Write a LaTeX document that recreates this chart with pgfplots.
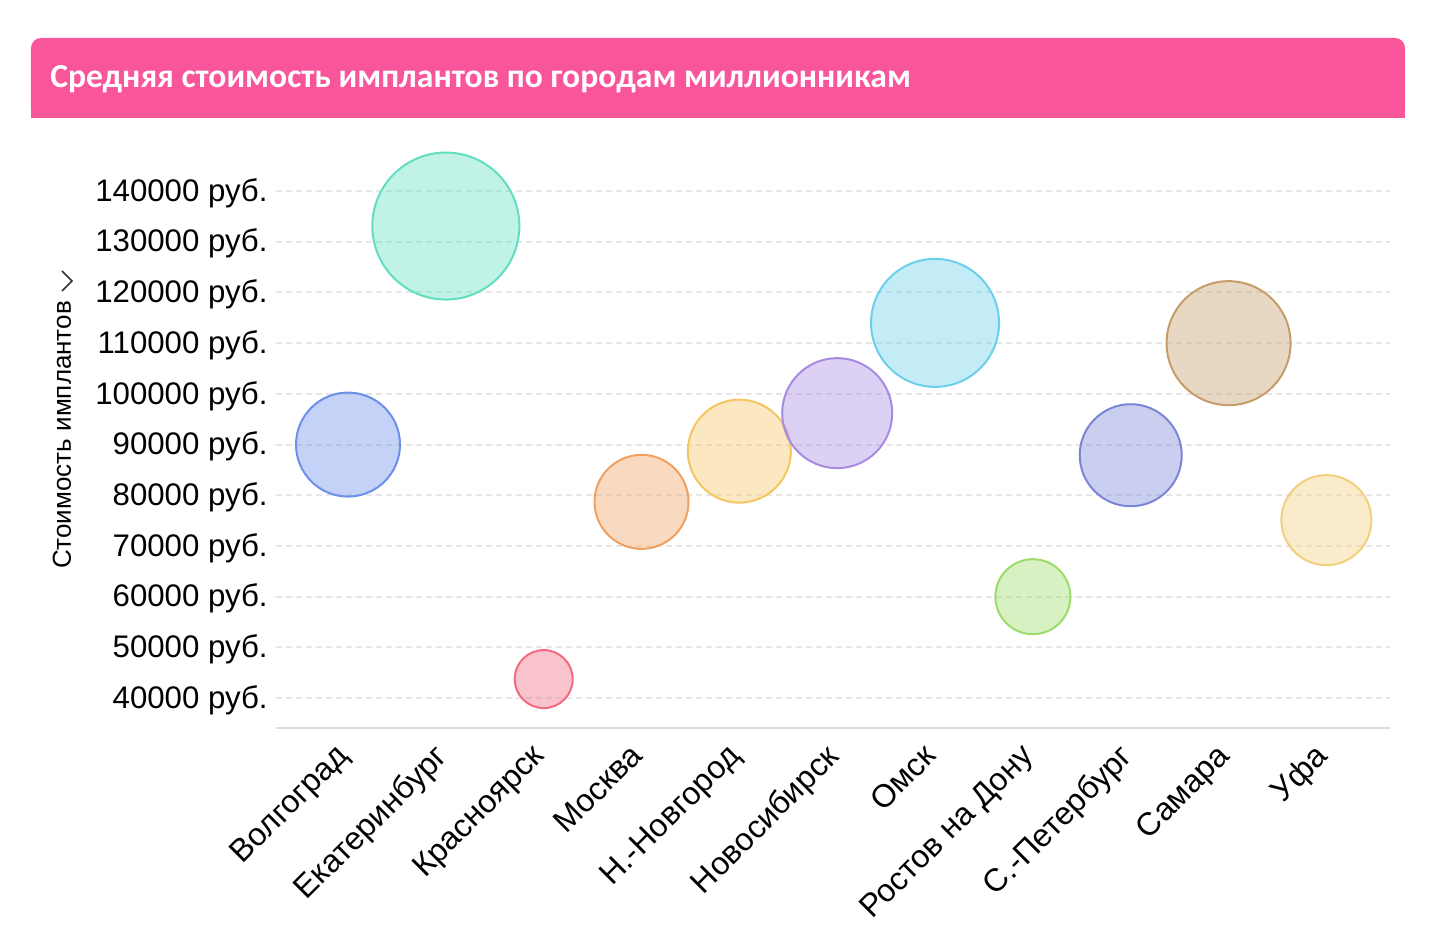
\documentclass[border=0pt]{standalone}
\usepackage{pgfplots}
\pgfplotsset{compat=1.18}
\usepackage{pgfplotstable}
\usepackage{fontspec}
\setmainfont{Liberation Sans}
\newfontfamily\titlefont{Carlito}

\definecolor{titlepink}{HTML}{F9559A}
\definecolor{gridc}{HTML}{E6E6E6}
\definecolor{axisc}{HTML}{DDDDDD}
\definecolor{ca}{HTML}{6C8FEA}
\definecolor{cb}{HTML}{61DEC0}
\definecolor{cc}{HTML}{F06A80}
\definecolor{cd}{HTML}{F0A060}
\definecolor{ce}{HTML}{F5C564}
\definecolor{cf}{HTML}{A78BE3}
\definecolor{cg}{HTML}{6BCFEA}
\definecolor{ch}{HTML}{9CDC6A}
\definecolor{ci}{HTML}{7A85D6}
\definecolor{cj}{HTML}{C49D6A}
\definecolor{ck}{HTML}{F2CF7E}

\pgfplotstableread{
x y r c
0 90000 52 a
1 133100 73.5 b
2 43750 29 c
3 78700 47 d
4 88700 51.5 e
5 96200 55 f
6 114000 64 g
7 60000 37.5 h
8 87900 51 i
9 110000 62 j
10 75100 45 k
}\bubbles

\begin{document}
\begin{tikzpicture}
\useasboundingbox (-138bp,-99bp) rectangle (577.5bp,364bp);
% title bar
\fill[titlepink, rounded corners=5bp] (-122.5bp,305bp) rectangle (564.5bp,345bp);
\fill[titlepink] (-122.5bp,305bp) rectangle (564.5bp,320bp);
\node[anchor=west, inner sep=0pt, text=white, font=\titlefont\bfseries\fontsize{16.8bp}{20bp}\selectfont] at (-113bp,324.5bp) {Средняя стоимость имплантов по городам миллионникам};
\begin{axis}[
  at={(0,0)}, anchor=south west, scale only axis,
  width=557bp, height=289bp,
  xmin=-0.736, xmax=10.65, ymin=34100, ymax=148100,
  clip=false,
  scaled y ticks=false,
  axis x line*=bottom, axis y line*=left,
  axis line style={-},
  x axis line style={draw=axisc, line width=1bp},
  y axis line style={draw=none},
  major tick length=0pt,
  ytick={40000,50000,60000,70000,80000,90000,100000,110000,120000,130000,140000},
  yticklabels={40000 руб.,50000 руб.,60000 руб.,70000 руб.,80000 руб.,90000 руб.,100000 руб.,110000 руб.,120000 руб.,130000 руб.,140000 руб.},
  yticklabel style={font=\fontsize{15.6bp}{19bp}\selectfont, inner xsep=4bp, yshift=-1bp},
  xtick={0,1,2,3,4,5,6,7,8,9,10},
  xticklabels={Волгоград,Екатеринбург,Красноярск,Москва,Н.-Новгород,Новосибирск,Омск,Ростов на Дону,С.-Петербург,Самара,Уфа},
  xticklabel style={font=\fontsize{16bp}{19bp}\selectfont, rotate=45, anchor=north east, inner sep=0pt, xshift=-9.5bp, yshift=0bp},
  ymajorgrids,
  grid style={color=gridc, line width=1bp, dash pattern=on 3bp off 2bp},
]
\addplot[scatter, only marks, mark=*,
  point meta=explicit symbolic,
  scatter/classes={
    a={draw=ca, fill=ca, fill opacity=0.4, draw opacity=1, line width=1bp},
    b={draw=cb, fill=cb, fill opacity=0.4, draw opacity=1, line width=1bp},
    c={draw=cc, fill=cc, fill opacity=0.4, draw opacity=1, line width=1bp},
    d={draw=cd, fill=cd, fill opacity=0.4, draw opacity=1, line width=1bp},
    e={draw=ce, fill=ce, fill opacity=0.4, draw opacity=1, line width=1bp},
    f={draw=cf, fill=cf, fill opacity=0.4, draw opacity=1, line width=1bp},
    g={draw=cg, fill=cg, fill opacity=0.4, draw opacity=1, line width=1bp},
    h={draw=ch, fill=ch, fill opacity=0.4, draw opacity=1, line width=1bp},
    i={draw=ci, fill=ci, fill opacity=0.4, draw opacity=1, line width=1bp},
    j={draw=cj, fill=cj, fill opacity=0.4, draw opacity=1, line width=1bp},
    k={draw=ck, fill=ck, fill opacity=0.4, draw opacity=1, line width=1bp}},
  visualization depends on={\thisrow{r}*0.5 \as \rr},
  scatter/@pre marker code/.append style={/tikz/mark size=\rr bp},
] table[x=x, y=y, meta=c] {\bubbles};
\end{axis}
% y label
\node[rotate=90, inner sep=0pt, font=\fontsize{13bp}{15bp}\selectfont] at (-107bp,146.5bp) {Стоимость имплантов};
\draw[line width=0.8bp, black!80] (-107bp,228.5bp) -- (-102bp,223.5bp) -- (-107bp,218.5bp);
\end{tikzpicture}
\end{document}
